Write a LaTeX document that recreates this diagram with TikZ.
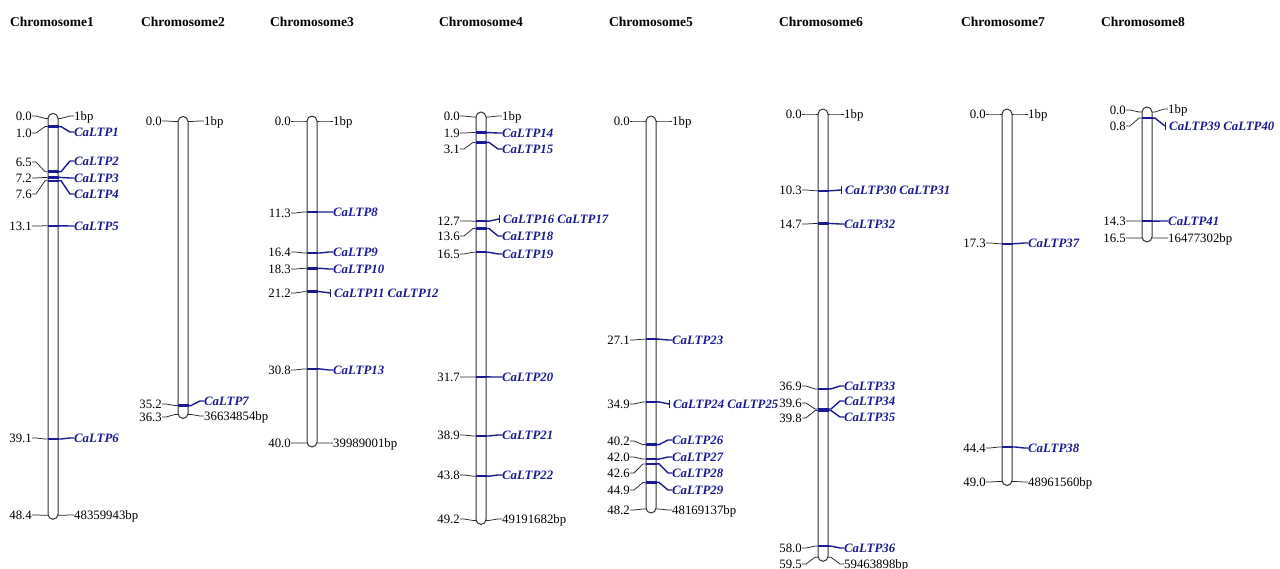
\documentclass[tikz,border=0pt]{standalone}
\usepackage{fontspec}
\setmainfont{Liberation Serif}
\definecolor{ltpblue}{RGB}{26,26,145}
\tikzset{
  chrbody/.style={draw=black!80, line width=1pt, rounded corners=5pt},
  lefttick/.style={draw=black!85, line width=0.75pt},
  genetick/.style={draw=ltpblue, line width=1.4pt},
  genemark/.style={draw=ltpblue, line width=2.4pt},
  poslabel/.style={anchor=east, inner sep=0pt, text height=8.5pt, text depth=0pt, font=\fontsize{12.8}{14}\selectfont},
  bplabel/.style={poslabel, anchor=west},
  genelabel/.style={poslabel, anchor=west, text=ltpblue, font=\fontsize{12.8}{14}\selectfont\bfseries\itshape},
  chrtitle/.style={anchor=west, inner sep=0pt, font=\fontsize{13.5}{15}\selectfont\bfseries},
}
% chromosome: #1 id, #2 centre x, #3 y of 0 cM, #4 px per cM, #5 length in cM
\newcommand\chromosome[5]{%
  \def\cid{#1}\def\chx{#2}\def\yz{#3}\def\pxcm{#4}%
  \draw[chrbody] (\chx-5,\yz-5) rectangle (\chx+5,{\yz+#5*\pxcm+4});
}
% end of a chromosome: #1 tag, #2 position, #3 left y, #4 right y, #5 bp
\newcommand\chrend[5]{%
  \pgfmathsetmacro\mky{\yz+#2*\pxcm}%
  \node[poslabel] (\cid#1pos) at (\chx-21,#3) {#2};
  \node[bplabel] (\cid#1bp) at (\chx+21,#4) {#5};
  \draw[lefttick] (\cid#1pos.east) -- ++(4,0) -- (\chx-8,\mky) -- (\chx-5,\mky);
  \draw[lefttick] (\chx+5,\mky) -- (\chx+8,\mky) -- ([xshift=-4pt]\cid#1bp.west) -- (\cid#1bp.west);
}
% one gene: #1 number, #2 position, #3 left y, #4 right y
\newcommand\ltp[4]{%
  \pgfmathsetmacro\mky{\yz+#2*\pxcm}%
  \node[poslabel] (pos#1) at (\chx-21,#3) {#2};
  \node[genelabel] (ltp#1) at (\chx+21,#4) {CaLTP#1};
  \draw[lefttick] (pos#1.east) -- ++(4,0) -- (\chx-8,\mky) -- (\chx-5.5,\mky);
  \draw[genemark] (\chx-5.5,\mky) -- (\chx+5.5,\mky);
  \draw[genetick] (\chx+5,\mky) -- (\chx+8,\mky) -- ([xshift=-4pt]ltp#1.west) -- (ltp#1.west);
}
% two genes at one locus: #1, #2 numbers, #3 position, #4 left y, #5 right y
\newcommand\ltppair[5]{%
  \pgfmathsetmacro\mky{\yz+#3*\pxcm}%
  \node[poslabel] (pos#1) at (\chx-21,#4) {#3};
  \node[genelabel] (ltp#1) at (\chx+22,#5) {CaLTP#1 CaLTP#2};
  \coordinate (bar#1) at (\chx+18,#5);
  \draw[lefttick] (pos#1.east) -- ++(4,0) -- (\chx-8,\mky) -- (\chx-5.5,\mky);
  \draw[genemark] (\chx-5.5,\mky) -- (\chx+5.5,\mky);
  \draw[genetick] (\chx+5,\mky) -- (\chx+8,\mky) -- (bar#1);
  \draw[lefttick] ([yshift=4pt]bar#1) -- ([yshift=-4pt]bar#1);
}
\begin{document}
\begin{tikzpicture}[x=1pt, y=-1pt]
\useasboundingbox (0,0) rectangle (1280,569);
\node[chrtitle] (title1) at (10,22) {Chromosome1};
\node[chrtitle] (title2) at (141,22) {Chromosome2};
\node[chrtitle] (title3) at (270,22) {Chromosome3};
\node[chrtitle] (title4) at (439,22) {Chromosome4};
\node[chrtitle] (title5) at (609,22) {Chromosome5};
\node[chrtitle] (title6) at (779,22) {Chromosome6};
\node[chrtitle] (title7) at (961,22) {Chromosome7};
\node[chrtitle] (title8) at (1101,22) {Chromosome8};
% chromosome 1
\chromosome{c1}{53}{118.4}{8.2}{48.4}
\chrend{top}{0.0}{116}{116}{1bp}
\ltp{1}{1.0}{133}{132}
\ltp{2}{6.5}{162}{161}
\ltp{3}{7.2}{178}{178}
\ltp{4}{7.6}{194}{194}
\ltp{5}{13.1}{226}{226}
\ltp{6}{39.1}{438}{438}
\chrend{end}{48.4}{515}{515}{48359943bp}
% chromosome 2
\chromosome{c2}{183}{121.5}{8.07}{36.3}
\chrend{top}{0.0}{121}{121}{1bp}
\ltp{7}{35.2}{404}{401}
\chrend{end}{36.3}{417}{416}{36634854bp}
% chromosome 3
\chromosome{c3}{312}{121}{8.05}{40.0}
\chrend{top}{0.0}{121}{121}{1bp}
\ltp{8}{11.3}{213}{212}
\ltp{9}{16.4}{252}{252}
\ltp{10}{18.3}{269}{269}
\ltppair{11}{12}{21.2}{293}{293}
\ltp{13}{30.8}{370}{370}
\chrend{end}{40.0}{443}{443}{39989001bp}
% chromosome 4
\chromosome{c4}{481}{117}{8.2}{49.2}
\chrend{top}{0.0}{116}{116}{1bp}
\ltp{14}{1.9}{133}{133}
\ltp{15}{3.1}{149}{149}
\ltppair{16}{17}{12.7}{221}{219}
\ltp{18}{13.6}{236}{236}
\ltp{19}{16.5}{254}{254}
\ltp{20}{31.7}{377}{377}
\ltp{21}{38.9}{435}{435}
\ltp{22}{43.8}{475}{475}
\chrend{end}{49.2}{519}{519}{49191682bp}
% chromosome 5
\chromosome{c5}{651}{121}{8.05}{48.2}
\chrend{top}{0.0}{121}{121}{1bp}
\ltp{23}{27.1}{340}{340}
\ltppair{24}{25}{34.9}{404}{404}
\ltp{26}{40.2}{441}{440}
\ltp{27}{42.0}{457}{457}
\ltp{28}{42.6}{473}{473}
\ltp{29}{44.9}{490}{490}
\chrend{end}{48.2}{510}{510}{48169137bp}
% chromosome 6
\chromosome{c6}{823}{114}{7.45}{59.5}
\chrend{top}{0.0}{114}{114}{1bp}
\ltppair{30}{31}{10.3}{190}{190}
\ltp{32}{14.7}{224}{224}
\ltp{33}{36.9}{386}{386}
\ltp{34}{39.6}{403}{401}
\ltp{35}{39.8}{418}{417}
\ltp{36}{58.0}{548}{548}
\chrend{end}{59.5}{564}{564}{59463898bp}
% chromosome 7
\chromosome{c7}{1007}{114}{7.5}{49.0}
\chrend{top}{0.0}{114}{114}{1bp}
\ltp{37}{17.3}{243}{243}
\ltp{38}{44.4}{448}{448}
\chrend{end}{49.0}{482}{482}{48961560bp}
% chromosome 8
\chromosome{c8}{1147}{112}{7.63}{16.5}
\chrend{top}{0.0}{110}{109}{1bp}
\ltppair{39}{40}{0.8}{126}{126}
\ltp{41}{14.3}{221}{221}
\chrend{end}{16.5}{238}{238}{16477302bp}
\end{tikzpicture}
\end{document}
